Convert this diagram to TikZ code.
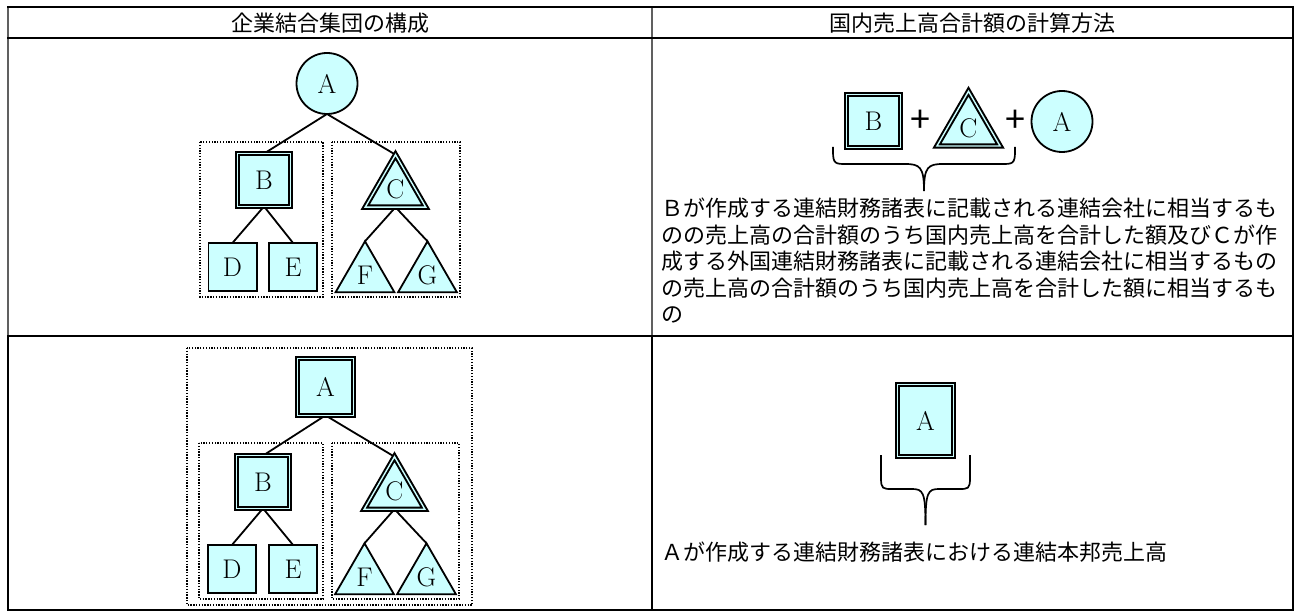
\documentclass[tikz,border=0pt]{standalone}
\usepackage{fontspec}
\newfontfamily\jp{Noto Sans CJK JP}
\usetikzlibrary{shapes.geometric}
\definecolor{cy}{HTML}{CCFFFF}
\definecolor{gr}{HTML}{606060}
\pgfdeclarelayer{bg}
\pgfsetlayers{bg,main}
\begin{document}
\begin{tikzpicture}[x=1pt,y=-1pt,
  every node/.style={inner sep=0pt, outer sep=0pt},
  lab/.style={font=\fontsize{27}{27}\selectfont},
  sq/.style={rectangle, draw, fill=cy, line width=1.8pt, lab, minimum size=48.2pt},
  dsq/.style={rectangle, draw, fill=cy, line width=2pt, double=cy, double distance=1.4pt, lab},
  tri/.style={regular polygon, regular polygon sides=3, draw, fill=cy, line width=1.8pt, line join=miter, lab, minimum size=68pt},
  dtri/.style={regular polygon, regular polygon sides=3, draw, fill=cy, line join=miter, line width=2pt, double=cy, double distance=1.4pt, lab},
  circ/.style={circle, draw, fill=cy, line width=1.8pt, lab, minimum size=61pt},
  conn/.style={line width=1.8pt},
  dotbox/.style={dash pattern=on 1.3pt off 1.5pt, line width=1.3pt},
  tline/.style={line width=2pt},
  brace/.style={line width=1.7pt},
  plus/.style={font=\jp\fontsize{36}{36}\selectfont},
  jtext/.style={font=\jp\fontsize{22}{22}\selectfont, anchor=west},
  jhead/.style={font=\jp\fontsize{22}{22}\selectfont},
]
\useasboundingbox (0,0) rectangle (1296,612);

% table
\draw[tline, gr] (8,7) -- (8,336) (652,7) -- (652,336);
\draw[tline] (8,336) -- (8,610) (652,336) -- (652,610) (1293,7) -- (1293,610);
\draw[tline] (7,7) -- (1294,7) (7,38) -- (1294,38) (7,336) -- (1294,336) (7,610) -- (1294,610);

\node[jhead] (h1) at (330,23) {企業結合集団の構成};
\node[jhead] (h2) at (972,23) {国内売上高合計額の計算方法};

% row 1 left
\draw[dotbox] (200,142) rectangle (323,297);
\draw[dotbox] (332,142) rectangle (460,297);
\node[circ] (A1) at (327,83.5) {A};
\node[dsq, minimum size=52.8pt] (B1) at (264,180) {B};
\node[dtri, minimum size=70pt] (C1) at (395.5,189.7) {C};
\node[sq] (D1) at (232.5,267) {D};
\node[sq] (E1) at (293,267) {E};
\node[tri] (F1) at (365,275.3) {F};
\node[tri] (G1) at (427.5,275.3) {G};

% row 2 left
\draw[dotbox] (187,348) rectangle (472,605);
\draw[dotbox] (199,443) rectangle (323,599);
\draw[dotbox] (332,443) rectangle (459,599);
\node[dsq, minimum width=55.8pt, minimum height=56.8pt] (A2) at (325.5,387) {A};
\node[dsq, minimum size=52.8pt] (B2) at (263,482) {B};
\node[dtri, minimum size=70pt] (C2) at (394.5,491.7) {C};
\node[sq] (D2) at (232,569) {D};
\node[sq] (E2) at (293,569) {E};
\node[tri] (F2) at (364.5,577.3) {F};
\node[tri] (G2) at (426.5,577.3) {G};

\begin{pgfonlayer}{bg}
\draw[conn] (A1.south) -- (B1.north) (A1.south) -- (C1.corner 1)
  (B1.south) -- (D1.north) (B1.south) -- (E1.north)
  (C1.side 2) -- (F1.corner 1) (C1.side 2) -- (G1.corner 1);
\draw[conn] (A2.south) -- (B2.north) (A2.south) -- (C2.corner 1)
  (B2.south) -- (D2.north) (B2.south) -- (E2.north)
  (C2.side 2) -- (F2.corner 1) (C2.side 2) -- (G2.corner 1);
\end{pgfonlayer}

% row 1 right
\node[dsq, minimum width=53.8pt, minimum height=52.8pt] (rB) at (873.5,121) {B};
\node[plus] (p1) at (920,121.5) {+};
\node[dtri, minimum size=73pt] (rC) at (968.5,127.8) {C};
\node[plus] (p2) at (1015,121.5) {+};
\node[circ] (rA) at (1062,121.5) {A};
\draw[brace] (833,147) -- (833,152) .. controls (833,164) and (836,164) .. (846,164)
  -- (905,164) .. controls (920,164) and (924,167) .. (924,191);
\draw[brace] (1015,147) -- (1015,152) .. controls (1015,164) and (1012,164) .. (1002,164)
  -- (943,164) .. controls (928,164) and (924,167) .. (924,191);

\node[jtext] (t1) at (661,208) {Ｂが作成する連結財務諸表に記載される連結会社に相当するも};
\node[jtext] (t2) at (661,234.7) {のの売上高の合計額のうち国内売上高を合計した額及びＣが作};
\node[jtext] (t3) at (661,261.4) {成する外国連結財務諸表に記載される連結会社に相当するもの};
\node[jtext] (t4) at (661,288.1) {の売上高の合計額のうち国内売上高を合計した額に相当するも};
\node[jtext] (t5) at (661,314.8) {の};

% row 2 right
\node[dsq, minimum width=55.8pt, minimum height=71.8pt] (r2A) at (925.5,420.5) {A};
\draw[brace] (881,455) -- (881,478) .. controls (881,489) and (883,489) .. (892,489)
  -- (912,489) .. controls (923,489) and (925.5,492) .. (925.5,525);
\draw[brace] (970,455) -- (970,478) .. controls (970,489) and (968,489) .. (959,489)
  -- (939,489) .. controls (928,489) and (925.5,492) .. (925.5,525);
\node[jtext] (t6) at (661,552) {Ａが作成する連結財務諸表における連結本邦売上高};
\end{tikzpicture}
\end{document}
